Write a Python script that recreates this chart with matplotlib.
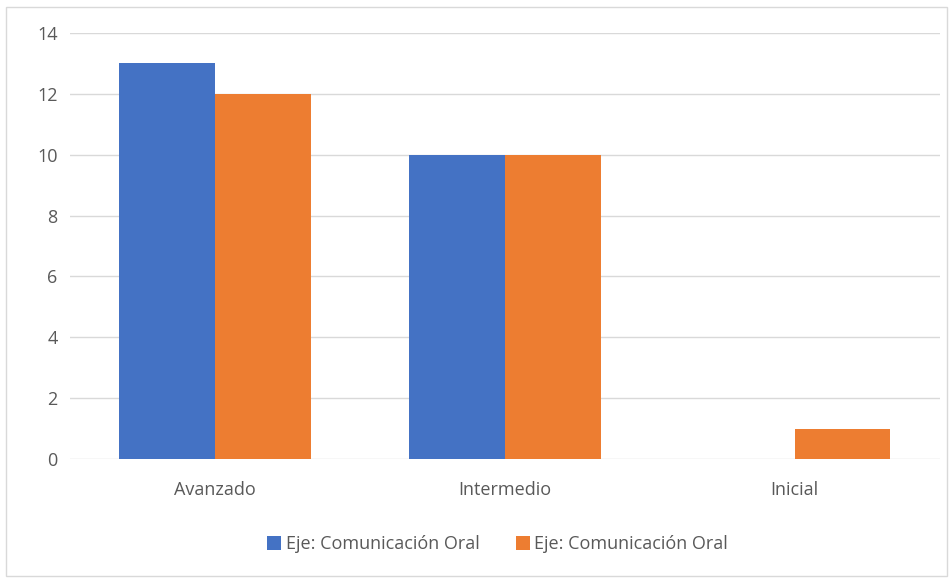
import matplotlib.pyplot as plt
from matplotlib.patches import Rectangle
import numpy as np

categorias = ['Avanzado', 'Intermedio', 'Inicial']
serie1 = [13, 10, 0]
serie2 = [12, 10, 1]
etiquetas = ['Eje: Comunicación Oral', 'Eje: Comunicación Oral']

plt.rcParams['font.family'] = ['Open Sans', 'DejaVu Sans']

fig = plt.figure(figsize=(9.53, 5.78), dpi=100)
ax = fig.add_axes([0.0735, 0.206, 0.9125, 0.737])

x = np.arange(len(categorias))
w = 0.33
ax.bar(x - w/2, serie1, w, color='#4472c4', label=etiquetas[0], zorder=3)
ax.bar(x + w/2, serie2, w, color='#ed7d31', label=etiquetas[1], zorder=3)

ax.set_xlim(-0.5, 2.5)
ax.set_ylim(0, 14)
ax.set_yticks(range(0, 15, 2))
ax.set_xticks(x)
ax.set_xticklabels(categorias)
ax.yaxis.grid(True, color='#d9d9d9', linewidth=1, zorder=0)
for s in ax.spines.values():
    s.set_visible(False)
ax.tick_params(length=0, labelsize=13, colors='#595959')
ax.tick_params(axis='x', pad=16)
ax.tick_params(axis='y', pad=9)

fig.legend(loc='center', bbox_to_anchor=(0.522, 0.058), ncol=2, frameon=False,
           fontsize=13, labelcolor='#595959', handlelength=0.8, handleheight=0.8,
           handletextpad=0.25, columnspacing=2.0)

fig.patches.append(Rectangle((0.006, 0.004), 0.988, 0.984, transform=fig.transFigure,
                             fill=False, edgecolor='#d9d9d9', linewidth=1))

fig.savefig('out.png', dpi=100)
